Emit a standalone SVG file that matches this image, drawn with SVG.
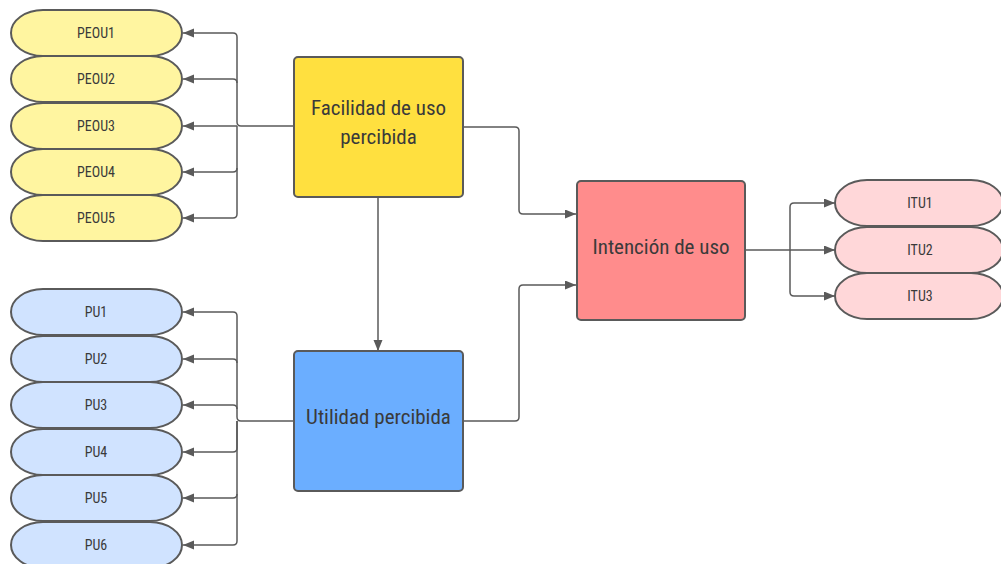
<svg xmlns="http://www.w3.org/2000/svg" width="1001" height="564" viewBox="0 0 1001 564">
<style>
.pill{stroke:#5a5a5a;stroke-width:2}
.box{stroke:#5a5a5a;stroke-width:2}
.py{fill:#FFF5A0}
.pb{fill:#D0E3FF}
.pr{fill:#FFD7D9}
.t{font-family:"Liberation Sans Narrow","Roboto Condensed","Liberation Sans",sans-serif;fill:#3a3a3a;text-anchor:middle;dominant-baseline:central}
.ts{font-size:14px}
.tl{font-size:21px}
.c{fill:none;stroke:#5a5a5a;stroke-width:1.5}
</style>
<defs>
<marker id="ah" markerUnits="userSpaceOnUse" markerWidth="12" markerHeight="10" refX="11" refY="4.5" orient="auto">
<path d="M0,0 L11,4.5 L0,9 z" fill="#5a5a5a"/>
</marker>
</defs>
<g id="connectors">
<path class="c" d="M294,126 H241 Q237,126 237,122 V37 Q237,33 233,33 H183" marker-end="url(#ah)"/>
<path class="c" d="M237,83 Q237,79 233,79 H183" marker-end="url(#ah)"/>
<path class="c" d="M237,126 H183" marker-end="url(#ah)"/>
<path class="c" d="M237,168 Q237,172 233,172 H183" marker-end="url(#ah)"/>
<path class="c" d="M237,126 V214 Q237,218 233,218 H183" marker-end="url(#ah)"/>
<path class="c" d="M294,421 H241 Q237,421 237,417 V316 Q237,312 233,312 H183" marker-end="url(#ah)"/>
<path class="c" d="M237,363 Q237,359 233,359 H183" marker-end="url(#ah)"/>
<path class="c" d="M237,409 Q237,405 233,405 H183" marker-end="url(#ah)"/>
<path class="c" d="M237,421 V448 Q237,452 233,452 H183" marker-end="url(#ah)"/>
<path class="c" d="M237,494 Q237,498 233,498 H183" marker-end="url(#ah)"/>
<path class="c" d="M237,421 V541 Q237,545 233,545 H183" marker-end="url(#ah)"/>
<path class="c" d="M378,197 V351" marker-end="url(#ah)"/>
<path class="c" d="M463,127 H515 Q519,127 519,131 V210 Q519,214 523,214 H576" marker-end="url(#ah)"/>
<path class="c" d="M463,421 H515 Q519,421 519,417 V289 Q519,285 523,285 H576" marker-end="url(#ah)"/>
<path class="c" d="M746,250 H790 V207 Q790,203 794,203 H835" marker-end="url(#ah)"/>
<path class="c" d="M790,250 H835" marker-end="url(#ah)"/>
<path class="c" d="M790,250 V292 Q790,296 794,296 H835" marker-end="url(#ah)"/>
</g>
<g id="peou1"><rect class="pill py" x="11" y="10" width="171" height="46" rx="32" ry="23"/><text class="t ts" x="96" y="33">PEOU1</text></g>
<g id="peou2"><rect class="pill py" x="11" y="56" width="171" height="46" rx="32" ry="23"/><text class="t ts" x="96" y="79">PEOU2</text></g>
<g id="peou3"><rect class="pill py" x="11" y="103" width="171" height="46" rx="32" ry="23"/><text class="t ts" x="96" y="126">PEOU3</text></g>
<g id="peou4"><rect class="pill py" x="11" y="149" width="171" height="46" rx="32" ry="23"/><text class="t ts" x="96" y="172">PEOU4</text></g>
<g id="peou5"><rect class="pill py" x="11" y="195" width="171" height="46" rx="32" ry="23"/><text class="t ts" x="96" y="218">PEOU5</text></g>
<g id="pu1"><rect class="pill pb" x="11" y="289" width="171" height="46" rx="32" ry="23"/><text class="t ts" x="96" y="312">PU1</text></g>
<g id="pu2"><rect class="pill pb" x="11" y="336" width="171" height="46" rx="32" ry="23"/><text class="t ts" x="96" y="359">PU2</text></g>
<g id="pu3"><rect class="pill pb" x="11" y="382" width="171" height="46" rx="32" ry="23"/><text class="t ts" x="96" y="405">PU3</text></g>
<g id="pu4"><rect class="pill pb" x="11" y="429" width="171" height="46" rx="32" ry="23"/><text class="t ts" x="96" y="452">PU4</text></g>
<g id="pu5"><rect class="pill pb" x="11" y="475" width="171" height="46" rx="32" ry="23"/><text class="t ts" x="96" y="498">PU5</text></g>
<g id="pu6"><rect class="pill pb" x="11" y="522" width="171" height="46" rx="32" ry="23"/><text class="t ts" x="96" y="545">PU6</text></g>
<g id="itu1"><rect class="pill pr" x="835" y="180" width="168" height="46" rx="32" ry="23"/><text class="t ts" x="920" y="203">ITU1</text></g>
<g id="itu2"><rect class="pill pr" x="835" y="227" width="168" height="46" rx="32" ry="23"/><text class="t ts" x="920" y="250">ITU2</text></g>
<g id="itu3"><rect class="pill pr" x="835" y="273" width="168" height="46" rx="32" ry="23"/><text class="t ts" x="920" y="296">ITU3</text></g>
<g id="facilidad"><rect class="box" x="294" y="57" width="169" height="140" rx="4" fill="#FFE03F"/><text class="t tl" x="378.5" y="108">Facilidad de uso</text><text class="t tl" x="378.5" y="137">percibida</text></g>
<g id="utilidad"><rect class="box" x="294" y="351" width="169" height="140" rx="4" fill="#6BAEFF"/><text class="t tl" x="378.5" y="417">Utilidad percibida</text></g>
<g id="intencion"><rect class="box" x="577" y="181" width="168" height="139" rx="4" fill="#FF8C8C"/><text class="t tl" x="661" y="247">Intención de uso</text></g>
</svg>
